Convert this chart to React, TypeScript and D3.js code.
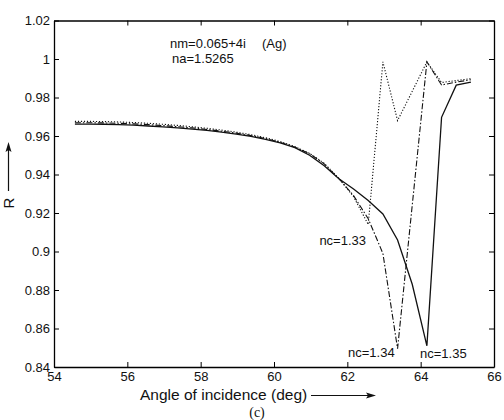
import React, { useEffect, useRef } from 'react';
import * as d3 from 'd3';

// incidence angles (deg) shared by all three curves
const angles = [
  54.57, 54.97, 55.37, 55.77, 56.17, 56.57, 56.97, 57.37, 57.77, 58.17,
  58.57, 58.97, 59.37, 59.77, 60.17, 60.57, 60.97, 61.37, 61.77, 62.17,
  62.57, 62.97, 63.37, 63.77, 64.17, 64.57, 64.97, 65.37,
];

// reflectance for each analyte index
const r133 = [
  0.9676, 0.9676, 0.9675, 0.9673, 0.967, 0.9666, 0.9661, 0.9655, 0.9648, 0.964,
  0.9631, 0.962, 0.9607, 0.9591, 0.9571, 0.9545, 0.951, 0.9458, 0.938, 0.9285,
  0.914, 0.9985, 0.968, 0.9832, 0.9985, 0.9878, 0.9888, 0.9898,
];
const r134 = [
  0.9669, 0.9669, 0.9668, 0.9666, 0.9663, 0.9659, 0.9654, 0.9648, 0.9642, 0.9634,
  0.9625, 0.9615, 0.9602, 0.9587, 0.9567, 0.9542, 0.9508, 0.9455, 0.9378, 0.929,
  0.917, 0.899, 0.8495, 0.924, 0.9985, 0.9865, 0.988, 0.9892,
];
const r135 = [
  0.9662, 0.9662, 0.9661, 0.9659, 0.9656, 0.9652, 0.9647, 0.9642, 0.9636, 0.9629,
  0.962, 0.961, 0.9598, 0.9583, 0.9564, 0.954, 0.95, 0.9445, 0.9378, 0.9325,
  0.9265, 0.9195, 0.906, 0.883, 0.851, 0.9697, 0.9864, 0.988,
];

const xTicks = [54, 56, 58, 60, 62, 64, 66];
const yTicks = [0.84, 0.86, 0.88, 0.9, 0.92, 0.94, 0.96, 0.98, 1, 1.02];

const series = [
  { name: 'nc=1.33', values: r133, dash: '1.2,1.8' },
  { name: 'nc=1.34', values: r134, dash: '6,2,1.5,2' },
  { name: 'nc=1.35', values: r135, dash: null },
];

const font = '"Liberation Sans", Arial, Helvetica, sans-serif';

export default function App() {
  const ref = useRef<SVGSVGElement>(null);

  useEffect(() => {
    const width = 504;
    const height = 420;
    const left = 54, right = 494, top = 20.5, bottom = 367;

    const svg = d3.select(ref.current);
    svg.selectAll('*').remove();
    svg.attr('width', width).attr('height', height);

    svg.append('rect').attr('width', width).attr('height', height).attr('fill', '#fff');

    const x = d3.scaleLinear().domain([54, 66]).range([left, right]);
    const y = d3.scaleLinear().domain([0.84, 1.02]).range([bottom, top]);
    const fmt = (d: number) => String(+d.toFixed(2));

    // box with inward ticks on all four sides
    const axes = [
      { axis: d3.axisBottom(x).tickValues(xTicks).tickFormat((d: any) => fmt(d)).tickPadding(5), at: `translate(0,${bottom})` },
      { axis: d3.axisTop(x).tickValues(xTicks).tickFormat(() => ''), at: `translate(0,${top})` },
      { axis: d3.axisLeft(y).tickValues(yTicks).tickFormat((d: any) => fmt(d)).tickPadding(4), at: `translate(${left},0)` },
      { axis: d3.axisRight(y).tickValues(yTicks).tickFormat(() => ''), at: `translate(${right},0)` },
    ];
    axes.forEach(({ axis, at }) => {
      const g = svg.append('g').attr('transform', at)
        .call(axis.tickSizeInner(-5).tickSizeOuter(0) as any);
      g.select('.domain').attr('stroke', '#000').attr('stroke-width', 1.3);
      g.selectAll('.tick line').attr('stroke', '#000').attr('stroke-width', 1);
      g.selectAll('.tick text').attr('fill', '#111').style('font-family', font).style('font-size', '13px');
    });

    const line = d3.line<number>()
      .x((d, i) => x(angles[i]))
      .y(d => y(d));

    series.forEach(s => {
      svg.append('path')
        .datum(s.values)
        .attr('d', line)
        .attr('fill', 'none')
        .attr('stroke', '#111')
        .attr('stroke-width', s.dash ? 1.1 : 1.3)
        .attr('stroke-dasharray', s.dash);
    });

    // curve labels
    const labels = [
      { text: 'nc=1.33', x: 366, y: 245, anchor: 'end' },
      { text: 'nc=1.34', x: 348, y: 357, anchor: 'start' },
      { text: 'nc=1.35', x: 420, y: 358, anchor: 'start' },
    ];
    labels.forEach(l => {
      svg.append('text').text(l.text)
        .attr('x', l.x).attr('y', l.y).attr('text-anchor', l.anchor)
        .style('font-family', font).style('font-size', '13px').attr('fill', '#111');
    });

    const note = [
      { text: 'nm=0.065+4i', x: 170, y: 48 },
      { text: '(Ag)', x: 262, y: 48 },
      { text: 'na=1.5265', x: 172, y: 63 },
    ];
    note.forEach(n => {
      svg.append('text').attr('x', n.x).attr('y', n.y)
        .style('font-family', font).style('font-size', '13px').attr('fill', '#111')
        .text(n.text);
    });

    // axis titles with arrows
    svg.append('text').attr('x', 140).attr('y', 400)
      .style('font-family', font).style('font-size', '15.5px').attr('fill', '#111')
      .text('Angle of incidence (deg)');
    svg.append('line').attr('x1', 311).attr('x2', 368).attr('y1', 395.5).attr('y2', 395.5)
      .attr('stroke', '#111').attr('stroke-width', 1.2);
    svg.append('path').attr('d', 'M376,395.5 L366,392.5 L368,395.5 L366,398.5 Z').attr('fill', '#111');

    svg.append('text')
      .attr('transform', 'translate(14,203) rotate(-90)')
      .attr('text-anchor', 'middle')
      .style('font-family', font).style('font-size', '15px').attr('fill', '#111')
      .text('R');
    svg.append('line').attr('x1', 8.5).attr('x2', 8.5).attr('y1', 191).attr('y2', 150)
      .attr('stroke', '#111').attr('stroke-width', 1.2);
    svg.append('path').attr('d', 'M8.5,142 L5.5,152 L8.5,150 L11.5,152 Z').attr('fill', '#111');

    svg.append('text').attr('x', 257).attr('y', 417).attr('text-anchor', 'middle')
      .style('font-family', '"Liberation Serif", "Times New Roman", serif').style('font-size', '14px')
      .attr('fill', '#111')
      .text('(c)');
  }, []);

  return <svg ref={ref} style={{ position: 'absolute', left: 0, top: 0 }} />;
}
